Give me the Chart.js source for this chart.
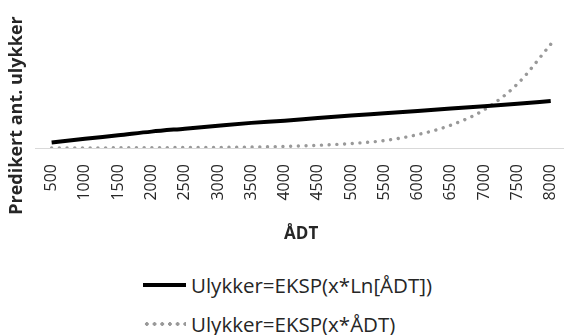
<!DOCTYPE html>
<html>
<head>
<meta charset="utf-8">
<script src="https://cdn.jsdelivr.net/npm/chart.js@4/dist/chart.umd.min.js"></script>
<style>
  html, body { margin: 0; padding: 0; background: #fff; overflow: hidden; }
  #wrap { position: relative; width: 564px; height: 335px; overflow: hidden; }
  #chartBox { position: absolute; left: 0; top: 0; width: 586px; height: 250px; }
  .legendRow { position: absolute; left: 143px; height: 26px; display: flex; align-items: center;
    font-family: "Open Sans", sans-serif; font-size: 20.5px; color: #262626; white-space: nowrap; }
  .legendRow .sym { width: 43px; height: 4px; margin-right: 5px; }
  .solidSym { background: #000; }
  .dotSym { background: radial-gradient(circle, #999 1.7px, transparent 2.1px) 0 0 / 7.7px 4px repeat-x; }
</style>
</head>
<body>
<div id="wrap">
  <div id="chartBox"><canvas id="chart"></canvas></div>
  <div class="legendRow" id="row1" style="top:272px"><span class="sym solidSym"></span><span class="txt"></span></div>
  <div class="legendRow" id="row2" style="top:311px"><span class="sym dotSym"></span><span class="txt"></span></div>
</div>
<script>
const adtLabels = ['500', '1000', '1500', '2000', '2500', '3000', '3500', '4000',
  '4500', '5000', '5500', '6000', '6500', '7000', '7500', '8000'];
// predicted accidents (arbitrary units)
const lnAdtValues = [5.5, 9.3, 12.8, 16.5, 19.5, 22.5, 25.3, 27.5,
  30.3, 32.8, 35, 37.3, 39.7, 42, 44.5, 47.3];
const adtValues = [0.1, 0.15, 0.2, 0.35, 0.5, 0.65, 1.0, 1.6,
  2.7, 4.5, 7.5, 13.5, 23, 38.5, 64.5, 104.5];
const seriesNames = ['Ulykker=EKSP(x*Ln[ÅDT])', 'Ulykker=EKSP(x*ÅDT)'];
const yTitle = 'Predikert ant. ulykker';
const xTitle = 'ÅDT';

document.querySelector('#row1 .txt').textContent = seriesNames[0];
document.querySelector('#row2 .txt').textContent = seriesNames[1];

// y axis title sits lower than the plot centre, so draw it by hand
const yTitlePlugin = {
  id: 'yTitlePlugin',
  afterDraw(chart) {
    const ctx = chart.ctx;
    ctx.save();
    ctx.translate(16.5, 115.5);
    ctx.rotate(-Math.PI / 2);
    ctx.font = 'bold 18px "Open Sans"';
    ctx.fillStyle = '#262626';
    ctx.textAlign = 'center';
    ctx.textBaseline = 'middle';
    ctx.fillText(yTitle, 0, 0);
    ctx.restore();
  }
};

new Chart(document.getElementById('chart'), {
  type: 'line',
  data: {
    labels: adtLabels,
    datasets: [
      {
        label: seriesNames[0],
        data: lnAdtValues,
        borderColor: '#000',
        borderWidth: 4,
        pointRadius: 0,
        cubicInterpolationMode: 'monotone',
        fill: false
      },
      {
        label: seriesNames[1],
        data: adtValues,
        borderColor: '#999',
        borderWidth: 3.4,
        borderDash: [0.01, 7.7],
        borderCapStyle: 'round',
        pointRadius: 0,
        cubicInterpolationMode: 'monotone',
        fill: false
      }
    ]
  },
  options: {
    responsive: true,
    maintainAspectRatio: false,
    animation: false,
    layout: { padding: { left: 35, right: 2, top: 4, bottom: 6 } },
    plugins: {
      legend: { display: false },
      tooltip: { enabled: false }
    },
    scales: {
      x: {
        offset: true,
        grid: { display: false, drawTicks: false },
        border: { display: true, color: '#d9d9d9', width: 1 },
        ticks: {
          minRotation: 90,
          maxRotation: 90,
          padding: 16,
          color: '#262626',
          font: { family: 'Open Sans', size: 16 }
        },
        title: {
          display: true,
          text: xTitle,
          color: '#262626',
          padding: { top: 7, bottom: 0 },
          font: { family: 'Open Sans', size: 17, weight: 'bold' }
        }
      },
      y: {
        display: false,
        min: 0,
        max: 145
      }
    }
  },
  plugins: [yTitlePlugin]
});
</script>
</body>
</html>
